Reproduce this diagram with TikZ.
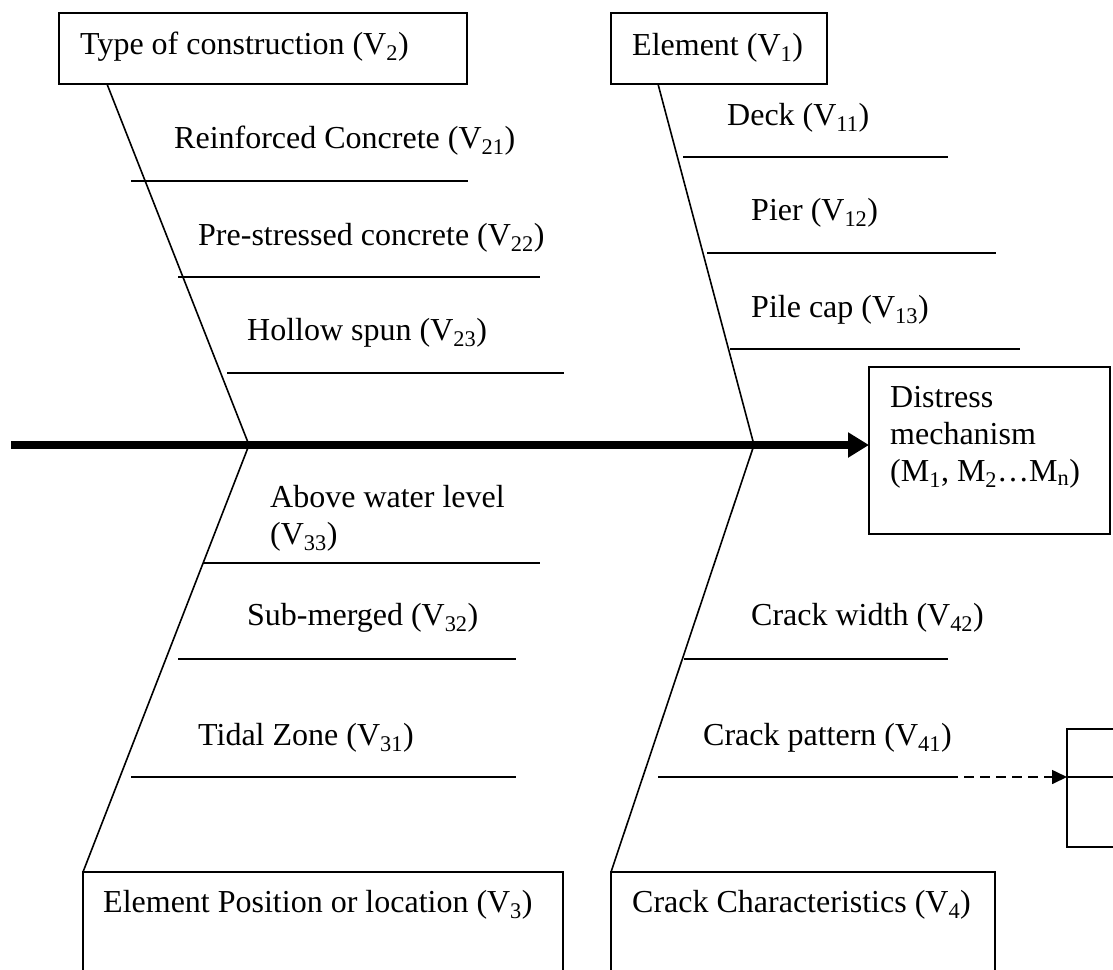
\documentclass[tikz,border=0pt]{standalone}
\usepackage{fontspec}
\setmainfont{Liberation Serif}
\usetikzlibrary{arrows.meta}
\begin{document}
\begin{tikzpicture}[x=1pt,y=-1pt,
  boxnode/.style={draw, line width=1.6pt, anchor=north west, inner sep=0pt, outer sep=0pt},
  lbl/.style={anchor=base west, inner sep=0pt, font=\fontsize{32}{38}\selectfont},
  lblml/.style={anchor=north west, inner sep=0pt, align=left, font=\fontsize{32}{37}\selectfont},
  rib/.style={line width=1.6pt},
  spine/.style={line width=1.6pt}]
\useasboundingbox (0,0) rectangle (1113,969);
\clip (0,0) rectangle (1113,969);

% boxes
\node[boxnode, minimum width=408pt, minimum height=71pt] (tbox) at (59,13) {};
\node[boxnode, minimum width=216pt, minimum height=71pt] (ebox) at (611,13) {};
\node[boxnode, minimum width=241pt, minimum height=167pt] (dbox) at (869,367) {};
\node[boxnode, minimum width=480pt, minimum height=130pt] (pbox) at (83,872) {};
\node[boxnode, minimum width=384pt, minimum height=130pt] (cbox) at (611,872) {};
\node[boxnode, minimum width=90pt, minimum height=118pt] (xbox) at (1067,729) {};

% box labels
\node[lbl] (tlab) at (80,54) {Type of construction (V\textsubscript{2})};
\node[lbl] (elab) at (632,55) {Element (V\textsubscript{1})};
\node[lblml] (dlab) at (890,386) {Distress\\mechanism\\(M\textsubscript{1}, M\textsubscript{2}…M\textsubscript{n})};
\node[lbl] (plab) at (103,912) {Element Position or location (V\textsubscript{3})};
\node[lbl] (clab) at (632,912) {Crack Characteristics (V\textsubscript{4})};

% junctions on the main axis
\coordinate (jL) at (249,445);
\coordinate (jR) at (754,445);
\coordinate (start) at (11,445);

% spines
\draw[spine] (tbox.south west) ++(48,0) -- (jL);
\draw[spine] (ebox.south west) ++(47,0) -- (jR);
\draw[spine] (jL) -- (pbox.north west);
\draw[spine] (jR) -- (cbox.north west);

% main arrow
\draw[line width=7.5pt, -{Triangle[length=21pt,width=24pt]}] (start) -- (dbox.west |- jL);

% ribs: type of construction
\coordinate (a1) at (131,181); \coordinate (a2) at (468,181);
\coordinate (b1) at (178,277); \coordinate (b2) at (540,277);
\coordinate (c1) at (227,373); \coordinate (c2) at (564,373);
\draw[rib] (a1) -- (a2);
\draw[rib] (b1) -- (b2);
\draw[rib] (c1) -- (c2);
\node[lbl] (l21) at (174,148) {Reinforced Concrete (V\textsubscript{21})};
\node[lbl] (l22) at (198,245) {Pre-stressed concrete (V\textsubscript{22})};
\node[lbl] (l23) at (247,340) {Hollow spun (V\textsubscript{23})};

% ribs: element
\coordinate (d1) at (683,157); \coordinate (d2) at (948,157);
\coordinate (e1) at (707,253); \coordinate (e2) at (996,253);
\coordinate (f1) at (730,349); \coordinate (f2) at (1020,349);
\draw[rib] (d1) -- (d2);
\draw[rib] (e1) -- (e2);
\draw[rib] (f1) -- (f2);
\node[lbl] (l11) at (727,125) {Deck (V\textsubscript{11})};
\node[lbl] (l12) at (751,220) {Pier (V\textsubscript{12})};
\node[lbl] (l13) at (751,317) {Pile cap (V\textsubscript{13})};

% ribs: element position
\coordinate (g1) at (203,563); \coordinate (g2) at (540,563);
\coordinate (h1) at (178,659); \coordinate (h2) at (516,659);
\coordinate (i1) at (131,777); \coordinate (i2) at (516,777);
\draw[rib] (g1) -- (g2);
\draw[rib] (h1) -- (h2);
\draw[rib] (i1) -- (i2);
\node[lblml] (l33) at (270,485) {Above water level\\(V\textsubscript{33})};
\node[lbl] (l32) at (247,625) {Sub-merged (V\textsubscript{32})};
\node[lbl] (l31) at (198,745) {Tidal Zone (V\textsubscript{31})};

% ribs: crack characteristics
\coordinate (k1) at (684,659); \coordinate (k2) at (948,659);
\coordinate (m1) at (658,777); \coordinate (m2) at (948,777);
\draw[rib] (k1) -- (k2);
\draw[rib] (m1) -- (m2);
\node[lbl] (l42) at (751,625) {Crack width (V\textsubscript{42})};
\node[lbl] (l41) at (703,745) {Crack pattern (V\textsubscript{41})};

% dashed connector to the partial box
\draw[rib, dash pattern=on 10pt off 6pt, -{Triangle[length=15pt,width=14pt]}] (m2) -- (m2 -| xbox.west);
\draw[rib] (m2 -| xbox.west) -- (m2 -| xbox.east);
\end{tikzpicture}
\end{document}
